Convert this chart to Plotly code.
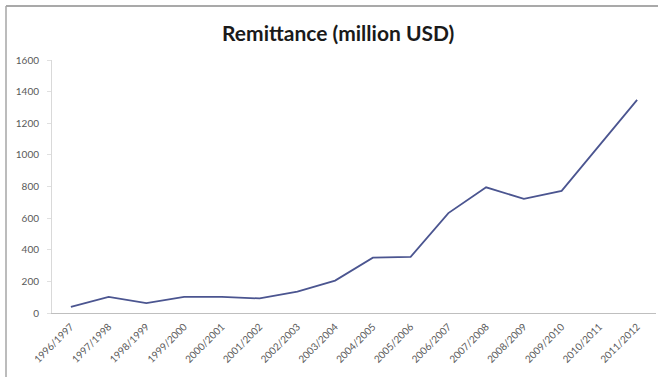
import plotly.graph_objects as go

years = ["1996/1997", "1997/1998", "1998/1999", "1999/2000", "2000/2001", "2001/2002",
         "2002/2003", "2003/2004", "2004/2005", "2005/2006", "2006/2007", "2007/2008",
         "2008/2009", "2009/2010", "2010/2011", "2011/2012"]
remittance = [38, 102, 63, 102, 102, 92, 135, 205, 350, 355, 632, 795, 722, 772, 1060, 1348]
y_ticks = [0, 200, 400, 600, 800, 1000, 1200, 1400, 1600]

fig = go.Figure()
fig.add_trace(go.Scatter(
    x=years, y=remittance, mode="lines",
    line=dict(color="#4b5590", width=1.8),
    showlegend=False, hoverinfo="x+y",
))

fig.update_layout(
    width=658, height=377,
    margin=dict(l=52, r=2, t=60, b=64),
    paper_bgcolor="white", plot_bgcolor="white",
    title=dict(text="<b>Remittance (million USD)</b>", x=0.514, xanchor="center",
               y=0.912, yanchor="middle",
               font=dict(family="Lato, Open Sans, sans-serif", size=21, color="#1a1a1a")),
    font=dict(family="Lato, Open Sans, sans-serif", size=10, color="#595959"),
    xaxis=dict(
        type="category", tickangle=-45, showgrid=False,
        showline=True, linecolor="#bfbfbf", linewidth=1,
        ticks="", range=[-0.5, 15.5], ticklabelstandoff=3,
        tickfont=dict(size=10, color="#595959"),
    ),
    yaxis=dict(
        range=[0, 1600], tickvals=y_ticks, showgrid=False,
        showline=True, linecolor="#d9d9d9", linewidth=1,
        ticks="outside", ticklen=4, tickcolor="#e0e0e0",
        zeroline=False, ticklabelstandoff=6,
        tickfont=dict(size=10, color="#595959"),
    ),
    shapes=[
        dict(type="line", xref="paper", yref="paper",
             x0=(6 - 52) / 604, x1=1.01, y0=(377 - 64 - 6) / 253, y1=(377 - 64 - 6) / 253,
             line=dict(color="#8c8c8c", width=1.5)),
        dict(type="line", xref="paper", yref="paper",
             x0=(6 - 52) / 604, x1=(6 - 52) / 604, y0=-0.3, y1=(377 - 64 - 6) / 253,
             line=dict(color="#a6a6a6", width=1.5)),
    ],
)

fig.write_html("out.html")
